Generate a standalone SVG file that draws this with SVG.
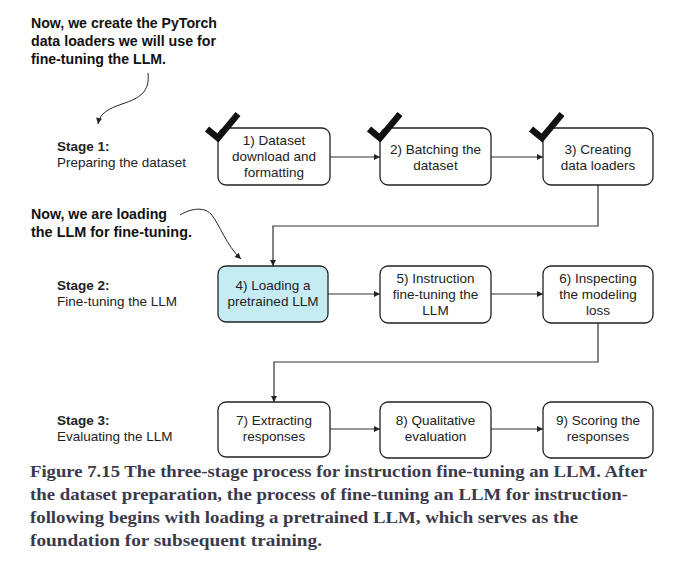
<svg xmlns="http://www.w3.org/2000/svg" width="675" height="565" viewBox="0 0 675 565">
<defs>
<style>
.box{fill:#fff;stroke:#222;stroke-width:1.3}
.hl{fill:#c6ecf3}
.bt{font-family:"Liberation Sans",Arial,sans-serif;font-size:13.5px;fill:#222;text-anchor:middle}
.st{font-family:"Liberation Sans",Arial,sans-serif;font-size:13.5px;fill:#222}
.stb{font-weight:bold}
.ann{font-family:"Liberation Sans",Arial,sans-serif;font-size:15px;font-weight:bold;fill:#111}
.con{fill:none;stroke:#333;stroke-width:1.2}
.cur{fill:none;stroke:#222;stroke-width:1}
.chk{fill:none;stroke:#111;stroke-width:6.5;stroke-linejoin:miter}
.cap{font-family:"Liberation Serif","DejaVu Serif",serif;font-size:17.5px;font-weight:bold;fill:#3a3a4a}
</style>
<marker id="ah" viewBox="0 0 10 10" refX="10" refY="5" markerWidth="8" markerHeight="6" markerUnits="userSpaceOnUse" orient="auto">
<path d="M0,0 L10,5 L0,10 z" fill="#222"/>
</marker>
</defs>
<rect width="675" height="565" fill="#fff"/>

<g id="annotations">
<text class="ann"><tspan x="31" y="28" textLength="186" lengthAdjust="spacingAndGlyphs">Now, we create the PyTorch</tspan><tspan x="31" y="46" textLength="185" lengthAdjust="spacingAndGlyphs">data loaders we will use for</tspan><tspan x="31" y="64" textLength="135" lengthAdjust="spacingAndGlyphs">fine-tuning the LLM.</tspan></text>
<text class="ann"><tspan x="31" y="219" textLength="136" lengthAdjust="spacingAndGlyphs">Now, we are loading</tspan><tspan x="31" y="237" textLength="161" lengthAdjust="spacingAndGlyphs">the LLM for fine-tuning.</tspan></text>
<path class="cur" d="M148,73 C150,92 140,98 122,104 C108,109 100,113 98,124" marker-end="url(#ah)"/>
<path class="cur" d="M180,215 C190,209 203,206 211,214 C220,225 226,245 241,259" marker-end="url(#ah)"/>
</g>

<g id="stages">
<text class="st"><tspan x="57" y="151" class="stb">Stage 1:</tspan><tspan x="57" y="167">Preparing the dataset</tspan></text>
<text class="st"><tspan x="57" y="290" class="stb">Stage 2:</tspan><tspan x="57" y="306">Fine-tuning the LLM</tspan></text>
<text class="st"><tspan x="57" y="425" class="stb">Stage 3:</tspan><tspan x="57" y="441">Evaluating the LLM</tspan></text>
</g>

<g id="connectors">
<line class="con" x1="330" y1="157" x2="380" y2="157" marker-end="url(#ah)"/>
<line class="con" x1="491" y1="157" x2="543" y2="157" marker-end="url(#ah)"/>
<polyline class="con" points="598,185 598,226 273,226 273,266" marker-end="url(#ah)"/>
<line class="con" x1="328" y1="294" x2="380" y2="294" marker-end="url(#ah)"/>
<line class="con" x1="491" y1="294" x2="543" y2="294" marker-end="url(#ah)"/>
<polyline class="con" points="598,323 598,362 274,362 274,402" marker-end="url(#ah)"/>
<line class="con" x1="330" y1="429" x2="380" y2="429" marker-end="url(#ah)"/>
<line class="con" x1="491" y1="429" x2="543" y2="429" marker-end="url(#ah)"/>
</g>

<g id="n1">
<rect class="box" x="218" y="128" width="112" height="57" rx="8"/>
<text class="bt"><tspan x="274" y="145">1) Dataset</tspan><tspan x="274" y="161">download and</tspan><tspan x="274" y="177">formatting</tspan></text>
<path class="chk" d="M207,129 L218,138 L238,114"/>
</g>
<g id="n2">
<rect class="box" x="380" y="128" width="111" height="57" rx="8"/>
<text class="bt"><tspan x="435.5" y="153.5">2) Batching the</tspan><tspan x="435.5" y="169.5">dataset</tspan></text>
<path class="chk" d="M369,129 L380,138 L400,114"/>
</g>
<g id="n3">
<rect class="box" x="543" y="128" width="110" height="57" rx="8"/>
<text class="bt"><tspan x="598" y="153.5">3) Creating</tspan><tspan x="598" y="169.5">data loaders</tspan></text>
<path class="chk" d="M531,129 L542,138 L562,114"/>
</g>
<g id="n4">
<rect class="box hl" x="218" y="266" width="110" height="56" rx="8"/>
<text class="bt"><tspan x="273" y="290">4) Loading a</tspan><tspan x="273" y="306">pretrained LLM</tspan></text>
</g>
<g id="n5">
<rect class="box" x="380" y="266" width="111" height="57" rx="8"/>
<text class="bt"><tspan x="435.5" y="283">5) Instruction</tspan><tspan x="435.5" y="299">fine-tuning the</tspan><tspan x="435.5" y="315">LLM</tspan></text>
</g>
<g id="n6">
<rect class="box" x="543" y="266" width="110" height="57" rx="8"/>
<text class="bt"><tspan x="598" y="283">6) Inspecting</tspan><tspan x="598" y="299">the modeling</tspan><tspan x="598" y="315">loss</tspan></text>
</g>
<g id="n7">
<rect class="box" x="218" y="402" width="112" height="55" rx="8"/>
<text class="bt"><tspan x="274" y="425">7) Extracting</tspan><tspan x="274" y="441">responses</tspan></text>
</g>
<g id="n8">
<rect class="box" x="380" y="402" width="111" height="56" rx="8"/>
<text class="bt"><tspan x="435.5" y="425">8) Qualitative</tspan><tspan x="435.5" y="441">evaluation</tspan></text>
</g>
<g id="n9">
<rect class="box" x="543" y="402" width="110" height="56" rx="8"/>
<text class="bt"><tspan x="598" y="425">9) Scoring the</tspan><tspan x="598" y="441">responses</tspan></text>
</g>

<g id="caption">
<text class="cap"><tspan x="30" y="477" textLength="617" lengthAdjust="spacingAndGlyphs">Figure 7.15 The three-stage process for instruction fine-tuning an LLM. After</tspan><tspan x="30" y="500" textLength="598" lengthAdjust="spacingAndGlyphs">the dataset preparation, the process of fine-tuning an LLM for instruction-</tspan><tspan x="30" y="523" textLength="548" lengthAdjust="spacingAndGlyphs">following begins with loading a pretrained LLM, which serves as the</tspan><tspan x="30" y="546" textLength="292" lengthAdjust="spacingAndGlyphs">foundation for subsequent training.</tspan></text>
</g>
</svg>
